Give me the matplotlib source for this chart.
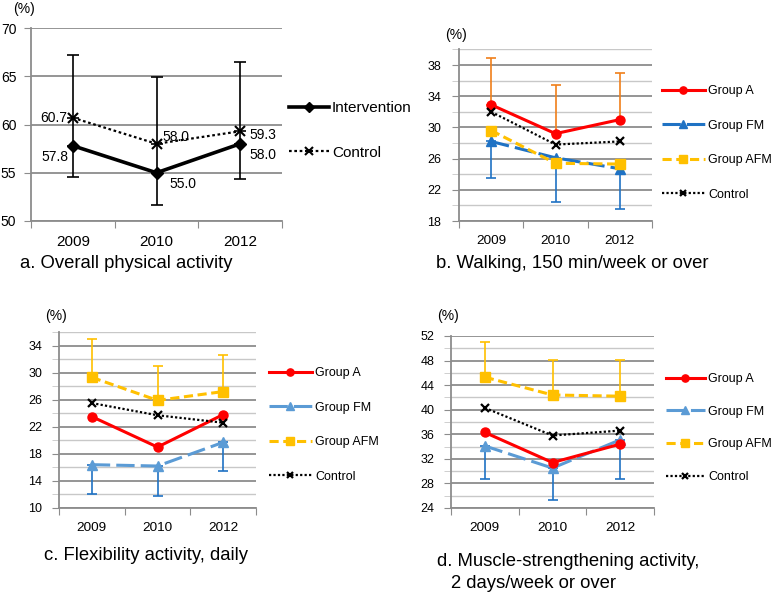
import matplotlib
matplotlib.use("Agg")
import matplotlib.pyplot as plt
import numpy as np
from matplotlib.ticker import MultipleLocator, FixedLocator

plt.rcParams['font.family'] = ['Liberation Sans', 'DejaVu Sans']

years = ["2009", "2010", "2012"]

# Panel a
a_intervention = [57.8, 55.0, 58.0]
a_intervention_lo = [54.6, 51.7, 54.4]
a_control = [60.7, 58.0, 59.3]
a_control_hi = [67.2, 64.9, 66.5]

# Panel b (walking)
b_groupA = [32.9, 29.2, 31.0]
b_groupA_hi = [38.9, 35.5, 37.0]
b_groupFM = [28.2, 26.1, 24.7]
b_groupFM_lo = [23.5, 20.5, 19.6]
b_groupAFM = [29.6, 25.4, 25.3]
b_control = [32.0, 27.8, 28.2]

# Panel c (flexibility)
c_groupA = [23.5, 19.0, 23.8]
c_groupFM = [16.4, 16.2, 19.7]
c_groupFM_lo = [12.0, 11.7, 15.4]
c_groupAFM = [29.3, 25.9, 27.2]
c_groupAFM_hi = [34.9, 31.0, 32.6]
c_control = [25.5, 23.7, 22.6]

# Panel d (muscle strengthening)
d_groupA = [36.3, 31.4, 34.4]
d_groupFM = [34.1, 30.5, 35.1]
d_groupFM_lo = [28.8, 25.3, 28.8]
d_groupAFM = [45.3, 42.4, 42.2]
d_groupAFM_hi = [51.1, 48.1, 48.1]
d_control = [40.3, 35.8, 36.6]

W, H = 778, 593
fig = plt.figure(figsize=(W / 100, H / 100), dpi=100)

def add_ax(x0, x1, ytop, ybot):
    return fig.add_axes([x0 / W, 1 - ybot / H, (x1 - x0) / W, (ybot - ytop) / H])

GRID_MAJ = '#8c8c8c'
GRID_MIN = '#c8c8c8'
x = np.arange(3)

def style_axes(ax, ylim, major, minor, xfs, yfs, ypad):
    ax.set_xlim(-0.5, 2.5)
    ax.set_ylim(*ylim)
    ax.yaxis.set_major_locator(MultipleLocator(major))
    if minor:
        ax.yaxis.set_minor_locator(MultipleLocator(minor))
        ax.grid(True, which='minor', axis='y', color=GRID_MIN, lw=1.0)
        ax.tick_params(axis='y', which='minor', length=5, color=GRID_MIN, direction='out')
    ax.grid(True, which='major', axis='y', color=GRID_MAJ, lw=1.3)
    ax.set_axisbelow(True)
    for s in ['top', 'right']:
        ax.spines[s].set_visible(False)
    ax.spines['left'].set_color(GRID_MAJ)
    ax.spines['bottom'].set_color(GRID_MAJ)
    ax.spines['left'].set_linewidth(1.3)
    ax.spines['bottom'].set_linewidth(1.3)
    ax.xaxis.set_major_locator(FixedLocator([-0.5, 0.5, 1.5, 2.5]))
    ax.set_xticklabels([])
    ax.xaxis.set_minor_locator(FixedLocator(x))
    ax.set_xticklabels(years, minor=True)
    ax.tick_params(axis='x', which='major', length=5, color=GRID_MAJ, direction='out')
    ax.tick_params(axis='x', which='minor', length=0, pad=10, labelsize=xfs)
    ax.tick_params(axis='y', which='major', length=5, color=GRID_MAJ, direction='out', labelsize=yfs, pad=ypad)

# ---------------- Panel a ----------------
axa = add_ax(31, 282, 28, 221)
style_axes(axa, (50, 70), 5, None, 11, 10, 5.5)
lo = np.array(a_intervention) - np.array(a_intervention_lo)
axa.errorbar(x, a_intervention, yerr=[lo, np.zeros(3)], fmt='none', ecolor='black', elinewidth=1.2, capsize=4, capthick=1.2, zorder=2)
up = np.array(a_control_hi) - np.array(a_control)
axa.errorbar(x, a_control, yerr=[np.zeros(3), up], fmt='none', ecolor='black', elinewidth=1.2, capsize=4, capthick=1.2, zorder=2)
axa.vlines(x, a_intervention, a_control, color='black', lw=1.2, zorder=2)
axa.plot(x, a_intervention, color='black', lw=2.6, marker='D', ms=6, label='Intervention', zorder=3)
axa.plot(x, a_control, color='black', lw=1.6, ls=(0, (1.2, 1.2)), marker='x', ms=7, mew=1.5, label='Control', zorder=3)
offs_int = [(-3, -8, 'right'), (9, -8, 'left'), (6.5, -8, 'left')]
offs_ctl = [(-4, 0, 'right'), (4, 5, 'left'), (6.5, -3, 'left')]
for i in range(3):
    dx, dy, ha = offs_int[i]
    axa.annotate(f"{a_intervention[i]:.1f}", (x[i], a_intervention[i]), xytext=(dx, dy), textcoords='offset points', fontsize=10, ha=ha, va='center')
    dx, dy, ha = offs_ctl[i]
    axa.annotate(f"{a_control[i]:.1f}", (x[i], a_control[i]), xytext=(dx, dy), textcoords='offset points', fontsize=10, ha=ha, va='center')
fig.text(13 / W, 1 - 9 / H, "(%)", fontsize=10, va='center', ha='left')
fig.text(20 / W, 1 - 264 / H, "a. Overall physical activity", fontsize=13.3, va='center', ha='left')
axa.legend(loc='upper left', bbox_to_anchor=(289 / W, 1 - 101 / H), bbox_transform=fig.transFigure,
           frameon=False, fontsize=11, handlelength=2.6, handletextpad=0.2, labelspacing=2.0,
           borderaxespad=0, borderpad=0, markerscale=0.85)

RED = '#ff0000'
ORANGE = '#f07f1a'
BLUE = '#1f72c4'
LBLUE = '#5b9bd5'
YEL = '#ffc000'

def group_panel(ax, A, FM, AFM, CTL, fmcol, errspec, legend_xy, fs_leg, lspace, hlen=3.4):
    for (vals, ends, col, direction) in errspec:
        d = np.abs(np.array(ends) - np.array(vals))
        z = np.zeros(3)
        yerr = [z, d] if direction == 'up' else [d, z]
        ax.errorbar(x, vals, yerr=yerr, fmt='none', ecolor=col, elinewidth=1.2, capsize=3.5, capthick=1.2, zorder=2)
    ax.plot(x, A, color=RED, lw=2.2, marker='o', ms=6.5, label='Group A', zorder=4)
    ax.plot(x, FM, color=fmcol, lw=2.2, ls=(0, (6, 2)), marker='^', ms=6.5, label='Group FM', zorder=3)
    ax.plot(x, AFM, color=YEL, lw=2.2, ls=(0, (3, 1.5)), marker='s', ms=6.5, label='Group AFM', zorder=3)
    ax.plot(x, CTL, color='black', lw=1.6, ls=(0, (1, 1)), marker='x', ms=6, mew=1.6, label='Control', zorder=5)
    ax.legend(loc='upper left', bbox_to_anchor=legend_xy, bbox_transform=fig.transFigure,
              frameon=False, fontsize=fs_leg, handlelength=hlen, handletextpad=0.3, labelspacing=lspace,
              borderaxespad=0, borderpad=0, markerscale=0.8)

# ---------------- Panel b ----------------
axb = add_ax(459, 652, 49.4, 221)
style_axes(axb, (18, 40), 4, 2, 9.7, 9, 8)
axb.set_yticks([18, 22, 26, 30, 34, 38])
group_panel(axb, b_groupA, b_groupFM, b_groupAFM, b_control, BLUE,
            [(b_groupA, b_groupA_hi, ORANGE, 'up'), (b_groupFM, b_groupFM_lo, BLUE, 'down')],
            (662 / W, 1 - 85 / H), 9, 1.8)
fig.text(445 / W, 1 - 35 / H, "(%)", fontsize=10, va='center', ha='left')
fig.text(436 / W, 1 - 264 / H, "b. Walking, 150 min/week or over", fontsize=13.3, va='center', ha='left')

# ---------------- Panel c ----------------
axc = add_ax(59, 256, 332, 508)
style_axes(axc, (10, 36), 4, 2, 9.7, 9, 7)
axc.set_yticks([10, 14, 18, 22, 26, 30, 34])
group_panel(axc, c_groupA, c_groupFM, c_groupAFM, c_control, LBLUE,
            [(c_groupAFM, c_groupAFM_hi, YEL, 'up'), (c_groupFM, c_groupFM_lo, BLUE, 'down')],
            (269 / W, 1 - 367 / H), 9, 1.8)
fig.text(45 / W, 1 - 316 / H, "(%)", fontsize=10, va='center', ha='left')
fig.text(44 / W, 1 - 555 / H, "c. Flexibility activity, daily", fontsize=13.3, va='center', ha='left')

# ---------------- Panel d ----------------
axd = add_ax(451, 654, 336, 508)
style_axes(axd, (24, 52), 4, 2, 9.7, 9, 7)
axd.set_yticks([24, 28, 32, 36, 40, 44, 48, 52])
group_panel(axd, d_groupA, d_groupFM, d_groupAFM, d_control, LBLUE,
            [(d_groupAFM, d_groupAFM_hi, YEL, 'up'), (d_groupFM, d_groupFM_lo, BLUE, 'down')],
            (666 / W, 1 - 373 / H), 9, 1.65, hlen=3.1)
fig.text(437 / W, 1 - 316 / H, "(%)", fontsize=10, va='center', ha='left')
fig.text(437 / W, 1 - 562 / H, "d. Muscle-strengthening activity,", fontsize=13.3, va='center', ha='left')
fig.text(451 / W, 1 - 584 / H, "2 days/week or over", fontsize=13.3, va='center', ha='left')

fig.savefig("out.png", dpi=100)
